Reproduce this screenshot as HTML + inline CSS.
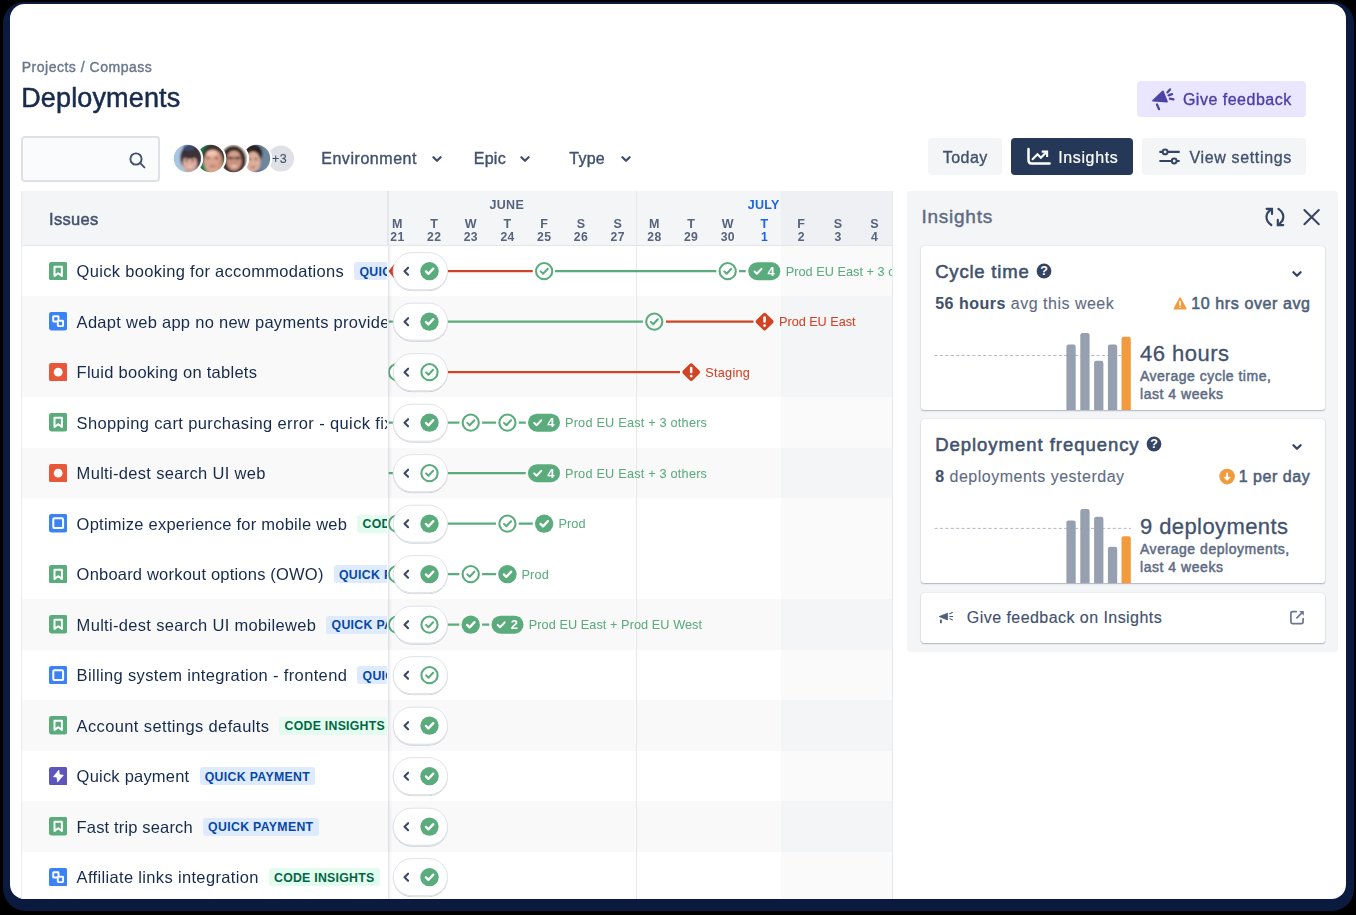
<!DOCTYPE html>
<html><head><meta charset="utf-8"><title>Deployments</title>
<style>
html,body{margin:0;padding:0;background:#000;}
body{width:1356px;height:915px;overflow:hidden;position:relative;font-family:"Liberation Sans", sans-serif;}
#navy{position:absolute;left:3px;top:2px;width:1351px;height:909px;border-radius:21px 21px 22px 23px;background:#0b1b3f;}
#win{position:absolute;left:10px;top:4px;width:1336px;height:895px;border-radius:14.5px;background:#fff;overflow:hidden;}
#pg{position:absolute;left:-10px;top:-4px;width:1356px;height:915px;opacity:0.999;}
b{font-weight:700}
</style></head><body>
<div id="navy"></div>
<div id="win"><div id="pg">
<span style="position:absolute;top:60.37px;font-size:14px;line-height:1;font-weight:400;color:#6b778c;white-space:nowrap;letter-spacing:0.513px;-webkit-text-stroke:0.4px #6b778c;left:21.70px;">Projects / Compass</span>
<span style="position:absolute;top:84.68px;font-size:27px;line-height:1;font-weight:400;color:#172b4d;white-space:nowrap;letter-spacing:0.148px;-webkit-text-stroke:0.5px #172b4d;left:21.20px;">Deployments</span>
<div style="position:absolute;left:21.00px;top:136.00px;width:139.00px;height:45.80px;background:#fafbfc;border-radius:4px;box-sizing:border-box;border:2px solid #dfe1e6;"></div>
<svg style="position:absolute;left:128.40px;top:150.50px;" width="19" height="19" viewBox="0 0 19 19"><circle cx="8" cy="8" r="5.6" fill="none" stroke="#42526e" stroke-width="1.9"/><path d="M12.2 12.2 L16.4 16.4" stroke="#42526e" stroke-width="1.9" stroke-linecap="round"/></svg>
<svg style="position:absolute;left:165.00px;top:135.00px;" width="140" height="50" viewBox="165 135 140 50"><defs><filter id="avb" x="-20%" y="-20%" width="140%" height="140%"><feGaussianBlur stdDeviation="0.8"/></filter></defs><circle cx="281" cy="158.5" r="13.1" fill="#dfe1e6"/><circle cx="256.5" cy="158.5" r="15.7" fill="#fff"/><clipPath id="av4"><circle cx="256.5" cy="158.5" r="13.7"/></clipPath><g clip-path="url(#av4)"><g filter="url(#avb)"><rect x="238.5" y="140.5" width="36" height="36" fill="#6e879c"/><rect x="238.5" y="140.5" width="9.5" height="36" fill="#f4efec"/><ellipse cx="253.3" cy="153.5" rx="9.2" ry="9.6" fill="#2b2121" opacity="1"/><ellipse cx="253.1" cy="162.1" rx="7.3" ry="10.6" fill="#dcae9a" opacity="1"/><ellipse cx="250.0" cy="159.1" rx="1.5" ry="0.9" fill="#4d3834" opacity="1"/><ellipse cx="255.9" cy="159.1" rx="1.5" ry="0.9" fill="#4d3834" opacity="1"/><ellipse cx="252.9" cy="167.1" rx="2.8" ry="0.9" fill="#a56b60" opacity="0.9"/><ellipse cx="259.5" cy="173.5" rx="7" ry="3" fill="#3a5a8a" opacity="0.9"/></g></g><circle cx="233.5" cy="158.5" r="15.7" fill="#fff"/><clipPath id="av3"><circle cx="233.5" cy="158.5" r="13.7"/></clipPath><g clip-path="url(#av3)"><g filter="url(#avb)"><rect x="215.5" y="140.5" width="36" height="36" fill="#e6e1dd"/><ellipse cx="233.5" cy="160.0" rx="12.6" ry="14.6" fill="#3a2926" opacity="1"/><ellipse cx="234.0" cy="160.9" rx="7.7" ry="10.2" fill="#c9927e" opacity="1"/><ellipse cx="234.0" cy="154.0" rx="5.5" ry="3" fill="#d9a590" opacity="0.8"/><rect x="226.9" y="157.3" width="14" height="1.1" fill="#4a3632"/><ellipse cx="230.5" cy="157.9" rx="2.2" ry="1.5" fill="#4a3632" opacity="0.8"/><ellipse cx="237.5" cy="157.9" rx="2.2" ry="1.5" fill="#4a3632" opacity="0.8"/><ellipse cx="234.1" cy="166.3" rx="3.2" ry="1.1" fill="#eedbd4" opacity="0.85"/></g></g><circle cx="210.6" cy="158.5" r="15.7" fill="#fff"/><clipPath id="av2"><circle cx="210.6" cy="158.5" r="13.7"/></clipPath><g clip-path="url(#av2)"><g filter="url(#avb)"><rect x="192.6" y="140.5" width="36" height="36" fill="#1e7d4b"/><ellipse cx="213.79999999999998" cy="155.0" rx="11.2" ry="11.5" fill="#3d322e" opacity="1"/><ellipse cx="213.2" cy="161.9" rx="9.4" ry="12.2" fill="#dba38f" opacity="1"/><ellipse cx="211.6" cy="153.3" rx="5.2" ry="3.0" fill="#f1c4b3" opacity="1"/><ellipse cx="208.0" cy="158.1" rx="1.6" ry="0.9" fill="#5b4038" opacity="1"/><ellipse cx="216.2" cy="158.1" rx="1.6" ry="0.9" fill="#5b4038" opacity="1"/><ellipse cx="212.79999999999998" cy="166.3" rx="3.6" ry="0.8" fill="#8c5a4e" opacity="0.8"/><ellipse cx="220.1" cy="161.5" rx="2.2" ry="8" fill="#c48873" opacity="0.6"/></g></g><circle cx="187.5" cy="158.5" r="15.7" fill="#fff"/><clipPath id="av1"><circle cx="187.5" cy="158.5" r="13.7"/></clipPath><g clip-path="url(#av1)"><g filter="url(#avb)"><rect x="169.5" y="140.5" width="36" height="36" fill="#a9c6e0"/><ellipse cx="191.0" cy="157.5" rx="10.8" ry="13.5" fill="#3a3038" opacity="1"/><ellipse cx="189.0" cy="147.5" rx="6" ry="3.2" fill="#3f4f78" opacity="0.85"/><ellipse cx="189.9" cy="163.3" rx="7.2" ry="8.6" fill="#dcab9b" opacity="1"/><ellipse cx="189.7" cy="155.3" rx="8.6" ry="3.6" fill="#3a3038" opacity="1"/><ellipse cx="186.7" cy="160.5" rx="1.3" ry="0.9" fill="#5a3f40" opacity="1"/><ellipse cx="192.7" cy="160.5" rx="1.3" ry="0.9" fill="#5a3f40" opacity="1"/><ellipse cx="190.1" cy="166.7" rx="2.6" ry="0.9" fill="#f0dcd6" opacity="0.9"/><ellipse cx="190.0" cy="170.5" rx="5" ry="2" fill="#c98f80" opacity="0.5"/></g></g></svg>
<span style="position:absolute;top:152.62px;font-size:12.5px;line-height:1;font-weight:400;color:#42526e;white-space:nowrap;letter-spacing:0.5px;-webkit-text-stroke:0.1px #42526e;left:-20.40px;width:600px;text-align:center;">+3</span>
<span style="position:absolute;top:150.91px;font-size:16px;line-height:1;font-weight:400;color:#42526e;white-space:nowrap;letter-spacing:0.55px;-webkit-text-stroke:0.4px #42526e;left:321.20px;">Environment</span>
<svg style="position:absolute;left:428.60px;top:151.40px;" width="16" height="16" viewBox="0 0 16 16"><path d="M4.4 6.2 L8 9.8 L11.6 6.2" fill="none" stroke="#42526e" stroke-width="2.3" stroke-linecap="round" stroke-linejoin="round"/></svg>
<span style="position:absolute;top:150.91px;font-size:16px;line-height:1;font-weight:400;color:#42526e;white-space:nowrap;letter-spacing:0.25px;-webkit-text-stroke:0.4px #42526e;left:473.80px;">Epic</span>
<svg style="position:absolute;left:517.00px;top:151.40px;" width="16" height="16" viewBox="0 0 16 16"><path d="M4.4 6.2 L8 9.8 L11.6 6.2" fill="none" stroke="#42526e" stroke-width="2.3" stroke-linecap="round" stroke-linejoin="round"/></svg>
<span style="position:absolute;top:150.91px;font-size:16px;line-height:1;font-weight:400;color:#42526e;white-space:nowrap;letter-spacing:0.25px;-webkit-text-stroke:0.4px #42526e;left:569.30px;">Type</span>
<svg style="position:absolute;left:617.70px;top:151.40px;" width="16" height="16" viewBox="0 0 16 16"><path d="M4.4 6.2 L8 9.8 L11.6 6.2" fill="none" stroke="#42526e" stroke-width="2.3" stroke-linecap="round" stroke-linejoin="round"/></svg>
<div style="position:absolute;left:1136.80px;top:80.70px;width:169.50px;height:36.50px;background:#eae6ff;border-radius:4px;"></div>
<span style="position:absolute;top:92.21px;font-size:16px;line-height:1;font-weight:400;color:#4a3fa5;white-space:nowrap;letter-spacing:0.501px;-webkit-text-stroke:0.35px #4a3fa5;left:1182.90px;">Give feedback</span>
<div style="position:absolute;left:927.60px;top:138.00px;width:74.40px;height:36.80px;background:#f4f5f7;border-radius:4px;"></div>
<span style="position:absolute;top:149.51px;font-size:16px;line-height:1;font-weight:400;color:#42526e;white-space:nowrap;letter-spacing:0.461px;-webkit-text-stroke:0.35px #42526e;left:942.80px;">Today</span>
<div style="position:absolute;left:1011.20px;top:138.00px;width:121.70px;height:36.80px;background:#253858;border-radius:4px;"></div>
<span style="position:absolute;top:149.51px;font-size:16px;line-height:1;font-weight:400;color:#ffffff;white-space:nowrap;letter-spacing:0.632px;-webkit-text-stroke:0.2px #ffffff;left:1058.20px;">Insights</span>
<div style="position:absolute;left:1142.40px;top:138.00px;width:163.90px;height:36.80px;background:#f4f5f7;border-radius:4px;"></div>
<span style="position:absolute;top:149.51px;font-size:16px;line-height:1;font-weight:400;color:#42526e;white-space:nowrap;letter-spacing:0.648px;-webkit-text-stroke:0.35px #42526e;left:1189.50px;">View settings</span>
<div style="position:absolute;left:21.00px;top:191.00px;width:871.70px;height:54.50px;background:#f4f5f7;border-radius:0px;"></div>
<div style="position:absolute;left:780.70px;top:191.00px;width:112.00px;height:54.50px;background:#eff0f3;border-radius:0px;"></div>
<div style="position:absolute;left:780.70px;top:245.50px;width:112.00px;height:50.50px;background:#fafafb;border-radius:0px;"></div>
<div style="position:absolute;left:21.00px;top:296.00px;width:871.70px;height:50.50px;background:#f9f9fa;border-radius:0px;"></div>
<div style="position:absolute;left:780.70px;top:296.00px;width:112.00px;height:50.50px;background:#f4f5f7;border-radius:0px;"></div>
<div style="position:absolute;left:21.00px;top:346.50px;width:871.70px;height:50.50px;background:#f9f9fa;border-radius:0px;"></div>
<div style="position:absolute;left:780.70px;top:346.50px;width:112.00px;height:50.50px;background:#f4f5f7;border-radius:0px;"></div>
<div style="position:absolute;left:780.70px;top:397.00px;width:112.00px;height:50.50px;background:#fafafb;border-radius:0px;"></div>
<div style="position:absolute;left:21.00px;top:447.50px;width:871.70px;height:50.50px;background:#f9f9fa;border-radius:0px;"></div>
<div style="position:absolute;left:780.70px;top:447.50px;width:112.00px;height:50.50px;background:#f4f5f7;border-radius:0px;"></div>
<div style="position:absolute;left:780.70px;top:498.00px;width:112.00px;height:50.50px;background:#fafafb;border-radius:0px;"></div>
<div style="position:absolute;left:780.70px;top:548.50px;width:112.00px;height:50.50px;background:#fafafb;border-radius:0px;"></div>
<div style="position:absolute;left:21.00px;top:599.00px;width:871.70px;height:50.50px;background:#f9f9fa;border-radius:0px;"></div>
<div style="position:absolute;left:780.70px;top:599.00px;width:112.00px;height:50.50px;background:#f4f5f7;border-radius:0px;"></div>
<div style="position:absolute;left:780.70px;top:649.50px;width:112.00px;height:50.50px;background:#fafafb;border-radius:0px;"></div>
<div style="position:absolute;left:21.00px;top:700.00px;width:871.70px;height:50.50px;background:#f9f9fa;border-radius:0px;"></div>
<div style="position:absolute;left:780.70px;top:700.00px;width:112.00px;height:50.50px;background:#f4f5f7;border-radius:0px;"></div>
<div style="position:absolute;left:780.70px;top:750.50px;width:112.00px;height:50.50px;background:#fafafb;border-radius:0px;"></div>
<div style="position:absolute;left:21.00px;top:801.00px;width:871.70px;height:50.50px;background:#f9f9fa;border-radius:0px;"></div>
<div style="position:absolute;left:780.70px;top:801.00px;width:112.00px;height:50.50px;background:#f4f5f7;border-radius:0px;"></div>
<div style="position:absolute;left:780.70px;top:851.50px;width:112.00px;height:50.50px;background:#fafafb;border-radius:0px;"></div>
<div style="position:absolute;left:21.00px;top:244.50px;width:871.70px;height:1.00px;background:#e4e6ea;border-radius:0px;"></div>
<div style="position:absolute;left:21.00px;top:191.00px;width:1.00px;height:708.00px;background:#ebecf0;border-radius:0px;"></div>
<div style="position:absolute;left:636.00px;top:191.00px;width:1.00px;height:708.00px;background:#e6e8ec;border-radius:0px;"></div>
<div style="position:absolute;left:892.20px;top:191.00px;width:1.00px;height:708.00px;background:#e6e8ec;border-radius:0px;"></div>
<span style="position:absolute;top:210.70px;font-size:16.5px;line-height:1;font-weight:400;color:#42526e;white-space:nowrap;letter-spacing:0.319px;-webkit-text-stroke:0.5px #42526e;left:49.00px;">Issues</span>
<span style="position:absolute;top:218.12px;font-size:12.5px;line-height:1;font-weight:700;color:#56637d;white-space:nowrap;left:97.30px;width:600px;text-align:center;">M</span>
<span style="position:absolute;top:231.17px;font-size:12.2px;line-height:1;font-weight:700;color:#56637d;white-space:nowrap;letter-spacing:0.4px;left:97.45px;width:600px;text-align:center;">21</span>
<span style="position:absolute;top:218.12px;font-size:12.5px;line-height:1;font-weight:700;color:#56637d;white-space:nowrap;left:134.01px;width:600px;text-align:center;">T</span>
<span style="position:absolute;top:231.17px;font-size:12.2px;line-height:1;font-weight:700;color:#56637d;white-space:nowrap;letter-spacing:0.4px;left:134.16px;width:600px;text-align:center;">22</span>
<span style="position:absolute;top:218.12px;font-size:12.5px;line-height:1;font-weight:700;color:#56637d;white-space:nowrap;left:170.72px;width:600px;text-align:center;">W</span>
<span style="position:absolute;top:231.17px;font-size:12.2px;line-height:1;font-weight:700;color:#56637d;white-space:nowrap;letter-spacing:0.4px;left:170.87px;width:600px;text-align:center;">23</span>
<span style="position:absolute;top:218.12px;font-size:12.5px;line-height:1;font-weight:700;color:#56637d;white-space:nowrap;left:207.43px;width:600px;text-align:center;">T</span>
<span style="position:absolute;top:231.17px;font-size:12.2px;line-height:1;font-weight:700;color:#56637d;white-space:nowrap;letter-spacing:0.4px;left:207.58px;width:600px;text-align:center;">24</span>
<span style="position:absolute;top:218.12px;font-size:12.5px;line-height:1;font-weight:700;color:#56637d;white-space:nowrap;left:244.14px;width:600px;text-align:center;">F</span>
<span style="position:absolute;top:231.17px;font-size:12.2px;line-height:1;font-weight:700;color:#56637d;white-space:nowrap;letter-spacing:0.4px;left:244.29px;width:600px;text-align:center;">25</span>
<span style="position:absolute;top:218.12px;font-size:12.5px;line-height:1;font-weight:700;color:#56637d;white-space:nowrap;left:280.85px;width:600px;text-align:center;">S</span>
<span style="position:absolute;top:231.17px;font-size:12.2px;line-height:1;font-weight:700;color:#56637d;white-space:nowrap;letter-spacing:0.4px;left:281.00px;width:600px;text-align:center;">26</span>
<span style="position:absolute;top:218.12px;font-size:12.5px;line-height:1;font-weight:700;color:#56637d;white-space:nowrap;left:317.56px;width:600px;text-align:center;">S</span>
<span style="position:absolute;top:231.17px;font-size:12.2px;line-height:1;font-weight:700;color:#56637d;white-space:nowrap;letter-spacing:0.4px;left:317.71px;width:600px;text-align:center;">27</span>
<span style="position:absolute;top:218.12px;font-size:12.5px;line-height:1;font-weight:700;color:#56637d;white-space:nowrap;left:354.27px;width:600px;text-align:center;">M</span>
<span style="position:absolute;top:231.17px;font-size:12.2px;line-height:1;font-weight:700;color:#56637d;white-space:nowrap;letter-spacing:0.4px;left:354.42px;width:600px;text-align:center;">28</span>
<span style="position:absolute;top:218.12px;font-size:12.5px;line-height:1;font-weight:700;color:#56637d;white-space:nowrap;left:390.98px;width:600px;text-align:center;">T</span>
<span style="position:absolute;top:231.17px;font-size:12.2px;line-height:1;font-weight:700;color:#56637d;white-space:nowrap;letter-spacing:0.4px;left:391.13px;width:600px;text-align:center;">29</span>
<span style="position:absolute;top:218.12px;font-size:12.5px;line-height:1;font-weight:700;color:#56637d;white-space:nowrap;left:427.69px;width:600px;text-align:center;">W</span>
<span style="position:absolute;top:231.17px;font-size:12.2px;line-height:1;font-weight:700;color:#56637d;white-space:nowrap;letter-spacing:0.4px;left:427.84px;width:600px;text-align:center;">30</span>
<span style="position:absolute;top:218.12px;font-size:12.5px;line-height:1;font-weight:700;color:#1d63e8;white-space:nowrap;left:464.40px;width:600px;text-align:center;">T</span>
<span style="position:absolute;top:231.17px;font-size:12.2px;line-height:1;font-weight:700;color:#1d63e8;white-space:nowrap;letter-spacing:0.4px;left:464.55px;width:600px;text-align:center;">1</span>
<span style="position:absolute;top:218.12px;font-size:12.5px;line-height:1;font-weight:700;color:#56637d;white-space:nowrap;left:501.11px;width:600px;text-align:center;">F</span>
<span style="position:absolute;top:231.17px;font-size:12.2px;line-height:1;font-weight:700;color:#56637d;white-space:nowrap;letter-spacing:0.4px;left:501.26px;width:600px;text-align:center;">2</span>
<span style="position:absolute;top:218.12px;font-size:12.5px;line-height:1;font-weight:700;color:#56637d;white-space:nowrap;left:537.82px;width:600px;text-align:center;">S</span>
<span style="position:absolute;top:231.17px;font-size:12.2px;line-height:1;font-weight:700;color:#56637d;white-space:nowrap;letter-spacing:0.4px;left:537.97px;width:600px;text-align:center;">3</span>
<span style="position:absolute;top:218.12px;font-size:12.5px;line-height:1;font-weight:700;color:#56637d;white-space:nowrap;left:574.53px;width:600px;text-align:center;">S</span>
<span style="position:absolute;top:231.17px;font-size:12.2px;line-height:1;font-weight:700;color:#56637d;white-space:nowrap;letter-spacing:0.4px;left:574.68px;width:600px;text-align:center;">4</span>
<span style="position:absolute;top:198.82px;font-size:12.5px;line-height:1;font-weight:700;color:#56637d;white-space:nowrap;letter-spacing:0.3px;left:206.80px;width:600px;text-align:center;">JUNE</span>
<span style="position:absolute;top:198.82px;font-size:12.5px;line-height:1;font-weight:700;color:#1d63e8;white-space:nowrap;letter-spacing:0.3px;left:463.70px;width:600px;text-align:center;">JULY</span>
<svg style="position:absolute;left:0.00px;top:0.00px;pointer-events:none;" width="1356" height="915" viewBox="0 0 1356 915"><clipPath id="tl"><rect x="388.5" y="245.5" width="504.2" height="660"/></clipPath><g clip-path="url(#tl)"><defs><filter id="sh" x="-20%" y="-20%" width="140%" height="150%"><feDropShadow dx="0" dy="1" stdDeviation="0.7" flood-color="#091e42" flood-opacity="0.2"/></filter></defs><path d="M447 271.15 L533 271.15" stroke="#d04425" stroke-width="2.2"/><circle cx="544.14" cy="271.15" r="11.4" fill="#fff"/><circle cx="544.14" cy="271.15" r="8.1" fill="#fff" stroke="#5aac7c" stroke-width="2.1"/><path d="M540.72 271.34 L543.10 273.71 L547.75 268.77" fill="none" stroke="#5aac7c" stroke-width="2" stroke-linecap="round" stroke-linejoin="round"/><path d="M555 271.15 L740 271.15" stroke="#5aac7c" stroke-width="2.2"/><circle cx="727.69" cy="271.15" r="11.4" fill="#fff"/><circle cx="727.69" cy="271.15" r="8.1" fill="#fff" stroke="#5aac7c" stroke-width="2.1"/><path d="M724.27 271.34 L726.65 273.71 L731.30 268.77" fill="none" stroke="#5aac7c" stroke-width="2" stroke-linecap="round" stroke-linejoin="round"/><path d="M739.7 271.15 L745.8 271.15" stroke="#5aac7c" stroke-width="2.2"/><rect x="746.0" y="259.84999999999997" width="36.6" height="22.6" rx="11.3" fill="#fff"/><rect x="748.3" y="262.15" width="32" height="18" rx="9" fill="#5aac7c"/><path d="M754.5 271.34999999999997 L756.9 273.75 L761.5 268.84999999999997" fill="none" stroke="#fff" stroke-width="2" stroke-linecap="round" stroke-linejoin="round"/><path d="M388.5 271.15 L394 264.15 L394 278.15 Z" fill="#d04425"/><path d="M388.5 321.65 L394 321.65" stroke="#5aac7c" stroke-width="2.2"/><path d="M447 321.65 L645 321.65" stroke="#5aac7c" stroke-width="2.2"/><circle cx="654.27" cy="321.65" r="11.4" fill="#f9f9fa"/><circle cx="654.27" cy="321.65" r="8.1" fill="#f9f9fa" stroke="#5aac7c" stroke-width="2.1"/><path d="M650.85 321.84 L653.23 324.21 L657.88 319.27" fill="none" stroke="#5aac7c" stroke-width="2" stroke-linecap="round" stroke-linejoin="round"/><path d="M666 321.65 L753.5 321.65" stroke="#d04425" stroke-width="2.2"/><rect x="757.7000000000002" y="314.75" width="13.8" height="13.8" rx="2.2" fill="#d04425" transform="rotate(45 764.6000000000001 321.65)"/><rect x="763.3500000000001" y="316.25" width="2.5" height="6.6" rx="1.1" fill="#fff"/><circle cx="764.6000000000001" cy="325.54999999999995" r="1.4" fill="#fff"/><circle cx="397" cy="372.15" r="8.1" fill="#fff" stroke="#5aac7c" stroke-width="2.1"/><path d="M447 372.15 L680 372.15" stroke="#d04425" stroke-width="2.2"/><rect x="684.2800000000001" y="365.25" width="13.8" height="13.8" rx="2.2" fill="#d04425" transform="rotate(45 691.1800000000001 372.15)"/><rect x="689.9300000000001" y="366.75" width="2.5" height="6.6" rx="1.1" fill="#fff"/><circle cx="691.1800000000001" cy="376.04999999999995" r="1.4" fill="#fff"/><path d="M388.5 422.65 L394 422.65" stroke="#5aac7c" stroke-width="2.2"/><path d="M447 422.65 L528 422.65" stroke="#5aac7c" stroke-width="2.2"/><circle cx="470.72" cy="422.65" r="11.4" fill="#fff"/><circle cx="470.72" cy="422.65" r="8.1" fill="#fff" stroke="#5aac7c" stroke-width="2.1"/><path d="M467.30 422.84 L469.68 425.21 L474.33 420.27" fill="none" stroke="#5aac7c" stroke-width="2" stroke-linecap="round" stroke-linejoin="round"/><circle cx="507.43" cy="422.65" r="11.4" fill="#fff"/><circle cx="507.43" cy="422.65" r="8.1" fill="#fff" stroke="#5aac7c" stroke-width="2.1"/><path d="M504.01 422.84 L506.38 425.21 L511.04 420.27" fill="none" stroke="#5aac7c" stroke-width="2" stroke-linecap="round" stroke-linejoin="round"/><rect x="525.7" y="411.34999999999997" width="36.6" height="22.6" rx="11.3" fill="#fff"/><rect x="528" y="413.65" width="32" height="18" rx="9" fill="#5aac7c"/><path d="M534.2 422.84999999999997 L536.6 425.25 L541.2 420.34999999999997" fill="none" stroke="#fff" stroke-width="2" stroke-linecap="round" stroke-linejoin="round"/><path d="M388.5 473.15 L394 473.15" stroke="#5aac7c" stroke-width="2.2"/><path d="M447 473.15 L528 473.15" stroke="#5aac7c" stroke-width="2.2"/><rect x="525.7" y="461.84999999999997" width="36.6" height="22.6" rx="11.3" fill="#f9f9fa"/><rect x="528" y="464.15" width="32" height="18" rx="9" fill="#5aac7c"/><path d="M534.2 473.34999999999997 L536.6 475.75 L541.2 470.84999999999997" fill="none" stroke="#fff" stroke-width="2" stroke-linecap="round" stroke-linejoin="round"/><circle cx="397" cy="523.65" r="8.1" fill="#fff" stroke="#5aac7c" stroke-width="2.1"/><path d="M447 523.65 L536 523.65" stroke="#5aac7c" stroke-width="2.2"/><circle cx="507.43" cy="523.65" r="11.4" fill="#fff"/><circle cx="507.43" cy="523.65" r="8.1" fill="#fff" stroke="#5aac7c" stroke-width="2.1"/><path d="M504.01 523.84 L506.38 526.22 L511.04 521.27" fill="none" stroke="#5aac7c" stroke-width="2" stroke-linecap="round" stroke-linejoin="round"/><circle cx="544.14" cy="523.65" r="11.4" fill="#fff"/><circle cx="544.14" cy="523.65" r="9.2" fill="#5aac7c"/><path d="M540.54 523.85 L543.04 526.35 L547.94 521.15" fill="none" stroke="#fff" stroke-width="2.3" stroke-linecap="round" stroke-linejoin="round"/><circle cx="397" cy="574.15" r="8.1" fill="#fff" stroke="#5aac7c" stroke-width="2.1"/><path d="M447 574.15 L500 574.15" stroke="#5aac7c" stroke-width="2.2"/><circle cx="470.72" cy="574.15" r="11.4" fill="#fff"/><circle cx="470.72" cy="574.15" r="8.1" fill="#fff" stroke="#5aac7c" stroke-width="2.1"/><path d="M467.30 574.34 L469.68 576.72 L474.33 571.77" fill="none" stroke="#5aac7c" stroke-width="2" stroke-linecap="round" stroke-linejoin="round"/><circle cx="507.43" cy="574.15" r="11.4" fill="#fff"/><circle cx="507.43" cy="574.15" r="9.2" fill="#5aac7c"/><path d="M503.83 574.35 L506.33 576.85 L511.23 571.65" fill="none" stroke="#fff" stroke-width="2.3" stroke-linecap="round" stroke-linejoin="round"/><circle cx="397" cy="624.65" r="8.1" fill="#fff" stroke="#5aac7c" stroke-width="2.1"/><path d="M447 624.65 L492 624.65" stroke="#5aac7c" stroke-width="2.2"/><circle cx="470.72" cy="624.65" r="11.4" fill="#f9f9fa"/><circle cx="470.72" cy="624.65" r="9.2" fill="#5aac7c"/><path d="M467.12 624.85 L469.62 627.35 L474.52 622.15" fill="none" stroke="#fff" stroke-width="2.3" stroke-linecap="round" stroke-linejoin="round"/><rect x="489.2" y="613.35" width="36.6" height="22.6" rx="11.3" fill="#f9f9fa"/><rect x="491.5" y="615.65" width="32" height="18" rx="9" fill="#5aac7c"/><path d="M497.7 624.85 L500.1 627.25 L504.7 622.35" fill="none" stroke="#fff" stroke-width="2" stroke-linecap="round" stroke-linejoin="round"/></g></svg>
<div style="position:absolute;left:785.7px;top:261.15px;width:106.5px;height:20px;overflow:hidden"><span style="position:absolute;top:4.45px;font-size:12.7px;line-height:1;font-weight:400;color:#5aac7c;white-space:nowrap;letter-spacing:0.039px;-webkit-text-stroke:0.05px #5aac7c;left:0.00px;">Prod EU East + 3 others</span></div>
<span style="position:absolute;top:264.95px;font-size:13px;line-height:1;font-weight:700;color:#fff;white-space:nowrap;left:471.10px;width:600px;text-align:center;">4</span>
<div style="position:absolute;left:779px;top:311.65px;width:113.20000000000005px;height:20px;overflow:hidden"><span style="position:absolute;top:4.45px;font-size:12.7px;line-height:1;font-weight:400;color:#d04425;white-space:nowrap;letter-spacing:-0.028px;-webkit-text-stroke:0.05px #d04425;left:0.00px;">Prod EU East</span></div>
<div style="position:absolute;left:705.3px;top:362.15px;width:186.9000000000001px;height:20px;overflow:hidden"><span style="position:absolute;top:4.45px;font-size:12.7px;line-height:1;font-weight:400;color:#d04425;white-space:nowrap;letter-spacing:0.261px;-webkit-text-stroke:0.05px #d04425;left:0.00px;">Staging</span></div>
<div style="position:absolute;left:565px;top:412.65px;width:327.20000000000005px;height:20px;overflow:hidden"><span style="position:absolute;top:4.45px;font-size:12.7px;line-height:1;font-weight:400;color:#5aac7c;white-space:nowrap;letter-spacing:0.217px;-webkit-text-stroke:0.05px #5aac7c;left:0.00px;">Prod EU East + 3 others</span></div>
<span style="position:absolute;top:416.45px;font-size:13px;line-height:1;font-weight:700;color:#fff;white-space:nowrap;left:250.80px;width:600px;text-align:center;">4</span>
<div style="position:absolute;left:565px;top:463.15px;width:327.20000000000005px;height:20px;overflow:hidden"><span style="position:absolute;top:4.45px;font-size:12.7px;line-height:1;font-weight:400;color:#5aac7c;white-space:nowrap;letter-spacing:0.217px;-webkit-text-stroke:0.05px #5aac7c;left:0.00px;">Prod EU East + 3 others</span></div>
<span style="position:absolute;top:466.95px;font-size:13px;line-height:1;font-weight:700;color:#fff;white-space:nowrap;left:250.80px;width:600px;text-align:center;">4</span>
<div style="position:absolute;left:558.4px;top:513.65px;width:333.80000000000007px;height:20px;overflow:hidden"><span style="position:absolute;top:4.45px;font-size:12.7px;line-height:1;font-weight:400;color:#5aac7c;white-space:nowrap;letter-spacing:0.143px;-webkit-text-stroke:0.05px #5aac7c;left:0.00px;">Prod</span></div>
<div style="position:absolute;left:521.5px;top:564.15px;width:370.70000000000005px;height:20px;overflow:hidden"><span style="position:absolute;top:4.45px;font-size:12.7px;line-height:1;font-weight:400;color:#5aac7c;white-space:nowrap;letter-spacing:0.143px;-webkit-text-stroke:0.05px #5aac7c;left:0.00px;">Prod</span></div>
<div style="position:absolute;left:528.7px;top:614.65px;width:363.5px;height:20px;overflow:hidden"><span style="position:absolute;top:4.45px;font-size:12.7px;line-height:1;font-weight:400;color:#5aac7c;white-space:nowrap;letter-spacing:0.073px;-webkit-text-stroke:0.05px #5aac7c;left:0.00px;">Prod EU East + Prod EU West</span></div>
<span style="position:absolute;top:618.45px;font-size:13px;line-height:1;font-weight:700;color:#fff;white-space:nowrap;left:214.30px;width:600px;text-align:center;">2</span>
<div style="position:absolute;left:22px;top:245.5px;width:365px;height:653.5px;overflow:hidden"><div style="position:absolute;left:-22px;top:-245.5px;width:1356px;height:915px"><div style="position:absolute;left:22.00px;top:245.50px;width:400.00px;height:50.50px;background:#fff;border-radius:0px;"></div><svg style="position:absolute;left:48.7px;top:261.95px" width="18.4" height="18.4" viewBox="0 0 18.4 18.4"><rect width="18.4" height="18.4" rx="2.3" fill="#5bab7d"/><path d="M5.5 4.8 H12.9 V13.9 L9.2 11.2 L5.5 13.9 Z" fill="none" stroke="#fff" stroke-width="2" stroke-linejoin="round"/></svg><span style="position:absolute;top:263.20px;font-size:16.5px;line-height:1;font-weight:400;color:#172b4d;white-space:nowrap;letter-spacing:0.306px;left:76.60px;">Quick booking for accommodations</span><div style="position:absolute;left:354.20px;top:262.05px;width:115.80px;height:18.10px;background:#deebff;border-radius:3px;"></div><span style="position:absolute;top:265.73px;font-size:12.3px;line-height:1;font-weight:700;color:#0747a6;white-space:nowrap;letter-spacing:0.327px;left:359.40px;">QUICK PAYMENT</span><div style="position:absolute;left:22.00px;top:296.00px;width:400.00px;height:50.50px;background:#f9f9fa;border-radius:0px;"></div><svg style="position:absolute;left:48.7px;top:312.45px" width="18.4" height="18.4" viewBox="0 0 18.4 18.4"><rect width="18.4" height="18.4" rx="2.3" fill="#3b82f6"/><rect x="4.2" y="4.2" width="5.3" height="5.3" rx="0.5" fill="none" stroke="#fff" stroke-width="1.9"/><rect x="8.8" y="8.8" width="5.3" height="5.3" rx="0.5" fill="#3b82f6" stroke="#fff" stroke-width="1.9"/></svg><span style="position:absolute;top:313.70px;font-size:16.5px;line-height:1;font-weight:400;color:#172b4d;white-space:nowrap;letter-spacing:0.28px;left:76.60px;">Adapt web app no new payments provider</span><div style="position:absolute;left:22.00px;top:346.50px;width:400.00px;height:50.50px;background:#f9f9fa;border-radius:0px;"></div><svg style="position:absolute;left:48.7px;top:362.95px" width="18.4" height="18.4" viewBox="0 0 18.4 18.4"><rect width="18.4" height="18.4" rx="2.3" fill="#e9573a"/><circle cx="9.2" cy="9.2" r="4.4" fill="#fff"/></svg><span style="position:absolute;top:364.20px;font-size:16.5px;line-height:1;font-weight:400;color:#172b4d;white-space:nowrap;letter-spacing:0.263px;left:76.60px;">Fluid booking on tablets</span><div style="position:absolute;left:22.00px;top:397.00px;width:400.00px;height:50.50px;background:#fff;border-radius:0px;"></div><svg style="position:absolute;left:48.7px;top:413.45px" width="18.4" height="18.4" viewBox="0 0 18.4 18.4"><rect width="18.4" height="18.4" rx="2.3" fill="#5bab7d"/><path d="M5.5 4.8 H12.9 V13.9 L9.2 11.2 L5.5 13.9 Z" fill="none" stroke="#fff" stroke-width="2" stroke-linejoin="round"/></svg><span style="position:absolute;top:414.70px;font-size:16.5px;line-height:1;font-weight:400;color:#172b4d;white-space:nowrap;letter-spacing:0.37px;left:76.60px;">Shopping cart purchasing error - quick fix</span><div style="position:absolute;left:22.00px;top:447.50px;width:400.00px;height:50.50px;background:#f9f9fa;border-radius:0px;"></div><svg style="position:absolute;left:48.7px;top:463.95px" width="18.4" height="18.4" viewBox="0 0 18.4 18.4"><rect width="18.4" height="18.4" rx="2.3" fill="#e9573a"/><circle cx="9.2" cy="9.2" r="4.4" fill="#fff"/></svg><span style="position:absolute;top:465.20px;font-size:16.5px;line-height:1;font-weight:400;color:#172b4d;white-space:nowrap;letter-spacing:0.314px;left:76.60px;">Multi-dest search UI web</span><div style="position:absolute;left:22.00px;top:498.00px;width:400.00px;height:50.50px;background:#fff;border-radius:0px;"></div><svg style="position:absolute;left:48.7px;top:514.45px" width="18.4" height="18.4" viewBox="0 0 18.4 18.4"><rect width="18.4" height="18.4" rx="2.3" fill="#3b82f6"/><rect x="4.3" y="4.3" width="9.8" height="9.8" rx="1.2" fill="none" stroke="#fff" stroke-width="2"/></svg><span style="position:absolute;top:515.70px;font-size:16.5px;line-height:1;font-weight:400;color:#172b4d;white-space:nowrap;letter-spacing:0.244px;left:76.60px;">Optimize experience for mobile web</span><div style="position:absolute;left:357.30px;top:514.55px;width:110.80px;height:18.10px;background:#e3fcef;border-radius:3px;"></div><span style="position:absolute;top:518.23px;font-size:12.3px;line-height:1;font-weight:700;color:#006644;white-space:nowrap;letter-spacing:0.258px;left:362.50px;">CODE INSIGHTS</span><div style="position:absolute;left:22.00px;top:548.50px;width:400.00px;height:50.50px;background:#fff;border-radius:0px;"></div><svg style="position:absolute;left:48.7px;top:564.95px" width="18.4" height="18.4" viewBox="0 0 18.4 18.4"><rect width="18.4" height="18.4" rx="2.3" fill="#5bab7d"/><path d="M5.5 4.8 H12.9 V13.9 L9.2 11.2 L5.5 13.9 Z" fill="none" stroke="#fff" stroke-width="2" stroke-linejoin="round"/></svg><span style="position:absolute;top:566.20px;font-size:16.5px;line-height:1;font-weight:400;color:#172b4d;white-space:nowrap;letter-spacing:0.201px;left:76.60px;">Onboard workout options (OWO)</span><div style="position:absolute;left:333.70px;top:565.05px;width:115.80px;height:18.10px;background:#deebff;border-radius:3px;"></div><span style="position:absolute;top:568.73px;font-size:12.3px;line-height:1;font-weight:700;color:#0747a6;white-space:nowrap;letter-spacing:0.327px;left:338.90px;">QUICK PAYMENT</span><div style="position:absolute;left:22.00px;top:599.00px;width:400.00px;height:50.50px;background:#f9f9fa;border-radius:0px;"></div><svg style="position:absolute;left:48.7px;top:615.45px" width="18.4" height="18.4" viewBox="0 0 18.4 18.4"><rect width="18.4" height="18.4" rx="2.3" fill="#5bab7d"/><path d="M5.5 4.8 H12.9 V13.9 L9.2 11.2 L5.5 13.9 Z" fill="none" stroke="#fff" stroke-width="2" stroke-linejoin="round"/></svg><span style="position:absolute;top:616.70px;font-size:16.5px;line-height:1;font-weight:400;color:#172b4d;white-space:nowrap;letter-spacing:0.314px;left:76.60px;">Multi-dest search UI mobileweb</span><div style="position:absolute;left:326.30px;top:615.55px;width:115.80px;height:18.10px;background:#deebff;border-radius:3px;"></div><span style="position:absolute;top:619.23px;font-size:12.3px;line-height:1;font-weight:700;color:#0747a6;white-space:nowrap;letter-spacing:0.327px;left:331.50px;">QUICK PAYMENT</span><div style="position:absolute;left:22.00px;top:649.50px;width:400.00px;height:50.50px;background:#fff;border-radius:0px;"></div><svg style="position:absolute;left:48.7px;top:665.95px" width="18.4" height="18.4" viewBox="0 0 18.4 18.4"><rect width="18.4" height="18.4" rx="2.3" fill="#3b82f6"/><rect x="4.3" y="4.3" width="9.8" height="9.8" rx="1.2" fill="none" stroke="#fff" stroke-width="2"/></svg><span style="position:absolute;top:667.20px;font-size:16.5px;line-height:1;font-weight:400;color:#172b4d;white-space:nowrap;letter-spacing:0.348px;left:76.60px;">Billing system integration - frontend</span><div style="position:absolute;left:357.30px;top:666.05px;width:115.80px;height:18.10px;background:#deebff;border-radius:3px;"></div><span style="position:absolute;top:669.73px;font-size:12.3px;line-height:1;font-weight:700;color:#0747a6;white-space:nowrap;letter-spacing:0.327px;left:362.50px;">QUICK PAYMENT</span><div style="position:absolute;left:22.00px;top:700.00px;width:400.00px;height:50.50px;background:#f9f9fa;border-radius:0px;"></div><svg style="position:absolute;left:48.7px;top:716.45px" width="18.4" height="18.4" viewBox="0 0 18.4 18.4"><rect width="18.4" height="18.4" rx="2.3" fill="#5bab7d"/><path d="M5.5 4.8 H12.9 V13.9 L9.2 11.2 L5.5 13.9 Z" fill="none" stroke="#fff" stroke-width="2" stroke-linejoin="round"/></svg><span style="position:absolute;top:717.70px;font-size:16.5px;line-height:1;font-weight:400;color:#172b4d;white-space:nowrap;letter-spacing:0.37px;left:76.60px;">Account settings defaults</span><div style="position:absolute;left:279.40px;top:716.55px;width:110.80px;height:18.10px;background:#e3fcef;border-radius:3px;"></div><span style="position:absolute;top:720.23px;font-size:12.3px;line-height:1;font-weight:700;color:#006644;white-space:nowrap;letter-spacing:0.258px;left:284.60px;">CODE INSIGHTS</span><div style="position:absolute;left:22.00px;top:750.50px;width:400.00px;height:50.50px;background:#fff;border-radius:0px;"></div><svg style="position:absolute;left:48.7px;top:766.95px" width="18.4" height="18.4" viewBox="0 0 18.4 18.4"><rect width="18.4" height="18.4" rx="2.3" fill="#5e56b8"/><path d="M9.9 3.1 L10.4 7.6 L14.4 8.2 L8.6 15.1 L8 10.2 L4.4 9.7 Z" fill="#fff" stroke="#fff" stroke-width="0.6" stroke-linejoin="round"/></svg><span style="position:absolute;top:768.20px;font-size:16.5px;line-height:1;font-weight:400;color:#172b4d;white-space:nowrap;letter-spacing:0.212px;left:76.60px;">Quick payment</span><div style="position:absolute;left:199.50px;top:767.05px;width:115.80px;height:18.10px;background:#deebff;border-radius:3px;"></div><span style="position:absolute;top:770.73px;font-size:12.3px;line-height:1;font-weight:700;color:#0747a6;white-space:nowrap;letter-spacing:0.327px;left:204.70px;">QUICK PAYMENT</span><div style="position:absolute;left:22.00px;top:801.00px;width:400.00px;height:50.50px;background:#f9f9fa;border-radius:0px;"></div><svg style="position:absolute;left:48.7px;top:817.45px" width="18.4" height="18.4" viewBox="0 0 18.4 18.4"><rect width="18.4" height="18.4" rx="2.3" fill="#5bab7d"/><path d="M5.5 4.8 H12.9 V13.9 L9.2 11.2 L5.5 13.9 Z" fill="none" stroke="#fff" stroke-width="2" stroke-linejoin="round"/></svg><span style="position:absolute;top:818.70px;font-size:16.5px;line-height:1;font-weight:400;color:#172b4d;white-space:nowrap;letter-spacing:0.156px;left:76.60px;">Fast trip search</span><div style="position:absolute;left:202.90px;top:817.55px;width:115.80px;height:18.10px;background:#deebff;border-radius:3px;"></div><span style="position:absolute;top:821.23px;font-size:12.3px;line-height:1;font-weight:700;color:#0747a6;white-space:nowrap;letter-spacing:0.327px;left:208.10px;">QUICK PAYMENT</span><div style="position:absolute;left:22.00px;top:851.50px;width:400.00px;height:50.50px;background:#fff;border-radius:0px;"></div><svg style="position:absolute;left:48.7px;top:867.95px" width="18.4" height="18.4" viewBox="0 0 18.4 18.4"><rect width="18.4" height="18.4" rx="2.3" fill="#3b82f6"/><rect x="4.2" y="4.2" width="5.3" height="5.3" rx="0.5" fill="none" stroke="#fff" stroke-width="1.9"/><rect x="8.8" y="8.8" width="5.3" height="5.3" rx="0.5" fill="#3b82f6" stroke="#fff" stroke-width="1.9"/></svg><span style="position:absolute;top:869.20px;font-size:16.5px;line-height:1;font-weight:400;color:#172b4d;white-space:nowrap;letter-spacing:0.335px;left:76.60px;">Affiliate links integration</span><div style="position:absolute;left:268.80px;top:868.05px;width:110.80px;height:18.10px;background:#e3fcef;border-radius:3px;"></div><span style="position:absolute;top:871.73px;font-size:12.3px;line-height:1;font-weight:700;color:#006644;white-space:nowrap;letter-spacing:0.258px;left:274.00px;">CODE INSIGHTS</span></div></div>
<div style="position:absolute;left:387.00px;top:191.00px;width:1.60px;height:54.50px;background:#e4e6ea;border-radius:0px;"></div>
<div style="position:absolute;left:387.50px;top:245.50px;width:4.20px;height:653.50px;background:linear-gradient(to right, rgba(9,30,66,0.13), rgba(9,30,66,0.05) 40%, rgba(9,30,66,0));border-radius:0px;"></div>
<svg style="position:absolute;left:0.00px;top:0.00px;pointer-events:none;" width="1356" height="915" viewBox="0 0 1356 915"><defs><filter id="sh2" x="-20%" y="-20%" width="140%" height="150%"><feDropShadow dx="0" dy="1" stdDeviation="0.7" flood-color="#091e42" flood-opacity="0.2"/></filter></defs><rect x="393.2" y="252.64999999999998" width="54.3" height="37" rx="18.5" fill="#fff" stroke="#dfe2e7" stroke-width="1" filter="url(#sh2)"/><path d="M408.1 267.65 L404.5 271.15 L408.1 274.65" fill="none" stroke="#3a4968" stroke-width="2.1" stroke-linecap="round" stroke-linejoin="round"/><circle cx="429.5" cy="271.15" r="9.2" fill="#5aac7c"/><path d="M425.90 271.35 L428.40 273.85 L433.30 268.65" fill="none" stroke="#fff" stroke-width="2.3" stroke-linecap="round" stroke-linejoin="round"/><rect x="393.2" y="303.15" width="54.3" height="37" rx="18.5" fill="#fff" stroke="#dfe2e7" stroke-width="1" filter="url(#sh2)"/><path d="M408.1 318.15 L404.5 321.65 L408.1 325.15" fill="none" stroke="#3a4968" stroke-width="2.1" stroke-linecap="round" stroke-linejoin="round"/><circle cx="429.5" cy="321.65" r="9.2" fill="#5aac7c"/><path d="M425.90 321.85 L428.40 324.35 L433.30 319.15" fill="none" stroke="#fff" stroke-width="2.3" stroke-linecap="round" stroke-linejoin="round"/><rect x="393.2" y="353.65" width="54.3" height="37" rx="18.5" fill="#fff" stroke="#dfe2e7" stroke-width="1" filter="url(#sh2)"/><path d="M408.1 368.65 L404.5 372.15 L408.1 375.65" fill="none" stroke="#3a4968" stroke-width="2.1" stroke-linecap="round" stroke-linejoin="round"/><circle cx="429.5" cy="372.15" r="8.1" fill="#fff" stroke="#5aac7c" stroke-width="2.1"/><path d="M426.08 372.34 L428.45 374.71 L433.11 369.77" fill="none" stroke="#5aac7c" stroke-width="2" stroke-linecap="round" stroke-linejoin="round"/><rect x="393.2" y="404.15" width="54.3" height="37" rx="18.5" fill="#fff" stroke="#dfe2e7" stroke-width="1" filter="url(#sh2)"/><path d="M408.1 419.15 L404.5 422.65 L408.1 426.15" fill="none" stroke="#3a4968" stroke-width="2.1" stroke-linecap="round" stroke-linejoin="round"/><circle cx="429.5" cy="422.65" r="9.2" fill="#5aac7c"/><path d="M425.90 422.85 L428.40 425.35 L433.30 420.15" fill="none" stroke="#fff" stroke-width="2.3" stroke-linecap="round" stroke-linejoin="round"/><rect x="393.2" y="454.65" width="54.3" height="37" rx="18.5" fill="#fff" stroke="#dfe2e7" stroke-width="1" filter="url(#sh2)"/><path d="M408.1 469.65 L404.5 473.15 L408.1 476.65" fill="none" stroke="#3a4968" stroke-width="2.1" stroke-linecap="round" stroke-linejoin="round"/><circle cx="429.5" cy="473.15" r="8.1" fill="#fff" stroke="#5aac7c" stroke-width="2.1"/><path d="M426.08 473.34 L428.45 475.71 L433.11 470.77" fill="none" stroke="#5aac7c" stroke-width="2" stroke-linecap="round" stroke-linejoin="round"/><rect x="393.2" y="505.15" width="54.3" height="37" rx="18.5" fill="#fff" stroke="#dfe2e7" stroke-width="1" filter="url(#sh2)"/><path d="M408.1 520.15 L404.5 523.65 L408.1 527.15" fill="none" stroke="#3a4968" stroke-width="2.1" stroke-linecap="round" stroke-linejoin="round"/><circle cx="429.5" cy="523.65" r="9.2" fill="#5aac7c"/><path d="M425.90 523.85 L428.40 526.35 L433.30 521.15" fill="none" stroke="#fff" stroke-width="2.3" stroke-linecap="round" stroke-linejoin="round"/><rect x="393.2" y="555.65" width="54.3" height="37" rx="18.5" fill="#fff" stroke="#dfe2e7" stroke-width="1" filter="url(#sh2)"/><path d="M408.1 570.65 L404.5 574.15 L408.1 577.65" fill="none" stroke="#3a4968" stroke-width="2.1" stroke-linecap="round" stroke-linejoin="round"/><circle cx="429.5" cy="574.15" r="9.2" fill="#5aac7c"/><path d="M425.90 574.35 L428.40 576.85 L433.30 571.65" fill="none" stroke="#fff" stroke-width="2.3" stroke-linecap="round" stroke-linejoin="round"/><rect x="393.2" y="606.15" width="54.3" height="37" rx="18.5" fill="#fff" stroke="#dfe2e7" stroke-width="1" filter="url(#sh2)"/><path d="M408.1 621.15 L404.5 624.65 L408.1 628.15" fill="none" stroke="#3a4968" stroke-width="2.1" stroke-linecap="round" stroke-linejoin="round"/><circle cx="429.5" cy="624.65" r="8.1" fill="#fff" stroke="#5aac7c" stroke-width="2.1"/><path d="M426.08 624.84 L428.45 627.22 L433.11 622.27" fill="none" stroke="#5aac7c" stroke-width="2" stroke-linecap="round" stroke-linejoin="round"/><rect x="393.2" y="656.65" width="54.3" height="37" rx="18.5" fill="#fff" stroke="#dfe2e7" stroke-width="1" filter="url(#sh2)"/><path d="M408.1 671.65 L404.5 675.15 L408.1 678.65" fill="none" stroke="#3a4968" stroke-width="2.1" stroke-linecap="round" stroke-linejoin="round"/><circle cx="429.5" cy="675.15" r="8.1" fill="#fff" stroke="#5aac7c" stroke-width="2.1"/><path d="M426.08 675.34 L428.45 677.72 L433.11 672.77" fill="none" stroke="#5aac7c" stroke-width="2" stroke-linecap="round" stroke-linejoin="round"/><rect x="393.2" y="707.15" width="54.3" height="37" rx="18.5" fill="#fff" stroke="#dfe2e7" stroke-width="1" filter="url(#sh2)"/><path d="M408.1 722.15 L404.5 725.65 L408.1 729.15" fill="none" stroke="#3a4968" stroke-width="2.1" stroke-linecap="round" stroke-linejoin="round"/><circle cx="429.5" cy="725.65" r="9.2" fill="#5aac7c"/><path d="M425.90 725.85 L428.40 728.35 L433.30 723.15" fill="none" stroke="#fff" stroke-width="2.3" stroke-linecap="round" stroke-linejoin="round"/><rect x="393.2" y="757.65" width="54.3" height="37" rx="18.5" fill="#fff" stroke="#dfe2e7" stroke-width="1" filter="url(#sh2)"/><path d="M408.1 772.65 L404.5 776.15 L408.1 779.65" fill="none" stroke="#3a4968" stroke-width="2.1" stroke-linecap="round" stroke-linejoin="round"/><circle cx="429.5" cy="776.15" r="9.2" fill="#5aac7c"/><path d="M425.90 776.35 L428.40 778.85 L433.30 773.65" fill="none" stroke="#fff" stroke-width="2.3" stroke-linecap="round" stroke-linejoin="round"/><rect x="393.2" y="808.15" width="54.3" height="37" rx="18.5" fill="#fff" stroke="#dfe2e7" stroke-width="1" filter="url(#sh2)"/><path d="M408.1 823.15 L404.5 826.65 L408.1 830.15" fill="none" stroke="#3a4968" stroke-width="2.1" stroke-linecap="round" stroke-linejoin="round"/><circle cx="429.5" cy="826.65" r="9.2" fill="#5aac7c"/><path d="M425.90 826.85 L428.40 829.35 L433.30 824.15" fill="none" stroke="#fff" stroke-width="2.3" stroke-linecap="round" stroke-linejoin="round"/><rect x="393.2" y="858.65" width="54.3" height="37" rx="18.5" fill="#fff" stroke="#dfe2e7" stroke-width="1" filter="url(#sh2)"/><path d="M408.1 873.65 L404.5 877.15 L408.1 880.65" fill="none" stroke="#3a4968" stroke-width="2.1" stroke-linecap="round" stroke-linejoin="round"/><circle cx="429.5" cy="877.15" r="9.2" fill="#5aac7c"/><path d="M425.90 877.35 L428.40 879.85 L433.30 874.65" fill="none" stroke="#fff" stroke-width="2.3" stroke-linecap="round" stroke-linejoin="round"/></svg>
<div style="position:absolute;left:907.20px;top:191.00px;width:430.80px;height:460.50px;background:#f4f5f7;border-radius:3px;"></div>
<span style="position:absolute;top:207.42px;font-size:19px;line-height:1;font-weight:400;color:#5e6c84;white-space:nowrap;letter-spacing:0.765px;-webkit-text-stroke:0.45px #5e6c84;left:921.40px;">Insights</span>
<div style="position:absolute;left:920.70px;top:245.50px;width:404.00px;height:164.50px;background:#fff;border-radius:3px;box-shadow:0 1px 1.5px rgba(9,30,66,0.28),0 0 1px rgba(9,30,66,0.25);overflow:hidden;"></div>
<div style="position:absolute;left:920.70px;top:419.00px;width:404.00px;height:164.20px;background:#fff;border-radius:3px;box-shadow:0 1px 1.5px rgba(9,30,66,0.28),0 0 1px rgba(9,30,66,0.25);overflow:hidden;"></div>
<div style="position:absolute;left:920.70px;top:593.00px;width:404.00px;height:50.40px;background:#fff;border-radius:3px;box-shadow:0 1px 1.5px rgba(9,30,66,0.28),0 0 1px rgba(9,30,66,0.25);overflow:hidden;"></div>
<svg style="position:absolute;left:0.00px;top:0.00px;pointer-events:none;" width="1356" height="915" viewBox="0 0 1356 915"><path d="M934.5 355.5 L1131 355.5" stroke="#b3bac5" stroke-width="1" stroke-dasharray="3.2 2.2"/><path d="M1066.4 410 V346.8 Q1066.4 344.6 1068.6000000000001 344.6 H1073.5 Q1075.7 344.6 1075.7 346.8 V410 Z" fill="#97a0b0"/><path d="M1080.3 410 V335.2 Q1080.3 333 1082.5 333 H1087.3999999999999 Q1089.6 333 1089.6 335.2 V410 Z" fill="#97a0b0"/><path d="M1094.1 410 V362.9 Q1094.1 360.7 1096.3 360.7 H1101.1999999999998 Q1103.3999999999999 360.7 1103.3999999999999 362.9 V410 Z" fill="#97a0b0"/><path d="M1107.9 410 V346.8 Q1107.9 344.6 1110.1000000000001 344.6 H1115.0 Q1117.2 344.6 1117.2 346.8 V410 Z" fill="#97a0b0"/><path d="M1121.5 410 V338.9 Q1121.5 336.7 1123.7 336.7 H1128.6 Q1130.8 336.7 1130.8 338.9 V410 Z" fill="#f29b3e"/><path d="M934.5 528.4 L1131 528.4" stroke="#b3bac5" stroke-width="1" stroke-dasharray="3.2 2.2"/><path d="M1066.4 583.2 V522.6 Q1066.4 520.4 1068.6000000000001 520.4 H1073.5 Q1075.7 520.4 1075.7 522.6 V583.2 Z" fill="#97a0b0"/><path d="M1080.3 583.2 V511.09999999999997 Q1080.3 508.9 1082.5 508.9 H1087.3999999999999 Q1089.6 508.9 1089.6 511.09999999999997 V583.2 Z" fill="#97a0b0"/><path d="M1094.1 583.2 V519.0 Q1094.1 516.8 1096.3 516.8 H1101.1999999999998 Q1103.3999999999999 516.8 1103.3999999999999 519.0 V583.2 Z" fill="#97a0b0"/><path d="M1107.9 583.2 V548.9000000000001 Q1107.9 546.7 1110.1000000000001 546.7 H1115.0 Q1117.2 546.7 1117.2 548.9000000000001 V583.2 Z" fill="#97a0b0"/><path d="M1121.5 583.2 V538.4000000000001 Q1121.5 536.2 1123.7 536.2 H1128.6 Q1130.8 536.2 1130.8 538.4000000000001 V583.2 Z" fill="#f29b3e"/></svg>
<span style="position:absolute;top:263.04px;font-size:18.5px;line-height:1;font-weight:400;color:#42526e;white-space:nowrap;letter-spacing:0.795px;-webkit-text-stroke:0.55px #42526e;left:935.20px;">Cycle time</span>
<svg style="position:absolute;left:1036.10px;top:263.40px;" width="16" height="16" viewBox="0 0 16 16"><circle cx="8" cy="8" r="7.4" fill="#344563"/><text x="8" y="12.4" text-anchor="middle" font-family='Liberation Sans, sans-serif' font-size="12.5" font-weight="700" fill="#fff">?</text></svg>
<svg style="position:absolute;left:1289.40px;top:265.50px;" width="16" height="16" viewBox="0 0 16 16"><path d="M4.4 6.2 L8 9.8 L11.6 6.2" fill="none" stroke="#344563" stroke-width="2.3" stroke-linecap="round" stroke-linejoin="round"/></svg>
<span style="position:absolute;top:295.61px;font-size:16px;line-height:1;font-weight:400;color:#5e6c84;white-space:nowrap;letter-spacing:0.5px;-webkit-text-stroke:0.1px #5e6c84;left:935.20px;"><b style="color:#42526e">56 hours</b> avg this week</span>
<span style="position:absolute;top:295.61px;font-size:16px;line-height:1;font-weight:400;color:#505f79;white-space:nowrap;letter-spacing:0.601px;-webkit-text-stroke:0.55px #505f79;right:45.40px;">10 hrs over avg</span>
<svg style="position:absolute;left:0.00px;top:0.00px;pointer-events:none;" width="1356" height="915" viewBox="0 0 1356 915"><path d="M1180.1 298.2 L1185.7 308.7 H1174.5 Z" fill="#f29b3e" stroke="#f29b3e" stroke-width="1.7" stroke-linejoin="round"/><rect x="1179.2" y="300.8" width="1.8" height="5" rx="0.6" fill="#fdf0e0"/><rect x="1179.2" y="306.7" width="1.8" height="1.4" rx="0.5" fill="#fdf0e0"/></svg>
<span style="position:absolute;top:342.53px;font-size:22px;line-height:1;font-weight:400;color:#42526e;white-space:nowrap;letter-spacing:0.498px;-webkit-text-stroke:0.3px #42526e;left:1140.00px;">46 hours</span>
<span style="position:absolute;top:369.17px;font-size:14px;line-height:1;font-weight:400;color:#5e6c84;white-space:nowrap;letter-spacing:0.494px;-webkit-text-stroke:0.5px #5e6c84;left:1140.00px;">Average cycle time,</span>
<span style="position:absolute;top:387.27px;font-size:14px;line-height:1;font-weight:400;color:#5e6c84;white-space:nowrap;letter-spacing:0.539px;-webkit-text-stroke:0.5px #5e6c84;left:1140.00px;">last 4 weeks</span>
<span style="position:absolute;top:436.04px;font-size:18.5px;line-height:1;font-weight:400;color:#42526e;white-space:nowrap;letter-spacing:0.965px;-webkit-text-stroke:0.55px #42526e;left:935.20px;">Deployment frequency</span>
<svg style="position:absolute;left:1145.70px;top:436.40px;" width="16" height="16" viewBox="0 0 16 16"><circle cx="8" cy="8" r="7.4" fill="#344563"/><text x="8" y="12.4" text-anchor="middle" font-family='Liberation Sans, sans-serif' font-size="12.5" font-weight="700" fill="#fff">?</text></svg>
<svg style="position:absolute;left:1289.40px;top:439.00px;" width="16" height="16" viewBox="0 0 16 16"><path d="M4.4 6.2 L8 9.8 L11.6 6.2" fill="none" stroke="#344563" stroke-width="2.3" stroke-linecap="round" stroke-linejoin="round"/></svg>
<span style="position:absolute;top:468.91px;font-size:16px;line-height:1;font-weight:400;color:#5e6c84;white-space:nowrap;letter-spacing:0.5px;-webkit-text-stroke:0.1px #5e6c84;left:935.20px;"><b style="color:#42526e">8</b> deployments yesterday</span>
<span style="position:absolute;top:468.81px;font-size:16px;line-height:1;font-weight:400;color:#505f79;white-space:nowrap;letter-spacing:0.532px;-webkit-text-stroke:0.55px #505f79;right:45.80px;">1 per day</span>
<svg style="position:absolute;left:0.00px;top:0.00px;pointer-events:none;" width="1356" height="915" viewBox="0 0 1356 915"><circle cx="1227.1" cy="476.6" r="7.8" fill="#f29b3e"/><path d="M1227.1 473.4 V478" stroke="#fff" stroke-width="1.8" stroke-linecap="round"/><path d="M1224.1 477.3 H1230.1 L1227.1 480.4 Z" fill="#fff" stroke="#fff" stroke-width="0.9" stroke-linejoin="round"/></svg>
<span style="position:absolute;top:516.13px;font-size:22px;line-height:1;font-weight:400;color:#42526e;white-space:nowrap;letter-spacing:0.409px;-webkit-text-stroke:0.3px #42526e;left:1140.00px;">9 deployments</span>
<span style="position:absolute;top:542.37px;font-size:14px;line-height:1;font-weight:400;color:#5e6c84;white-space:nowrap;letter-spacing:0.537px;-webkit-text-stroke:0.5px #5e6c84;left:1140.00px;">Average deployments,</span>
<span style="position:absolute;top:560.37px;font-size:14px;line-height:1;font-weight:400;color:#5e6c84;white-space:nowrap;letter-spacing:0.539px;-webkit-text-stroke:0.5px #5e6c84;left:1140.00px;">last 4 weeks</span>
<span style="position:absolute;top:610.31px;font-size:16px;line-height:1;font-weight:400;color:#42526e;white-space:nowrap;letter-spacing:0.45px;-webkit-text-stroke:0.15px #42526e;left:966.80px;">Give feedback on Insights</span>
<svg style="position:absolute;left:0.00px;top:0.00px;pointer-events:none;" width="1356" height="915" viewBox="0 0 1356 915"><path d="M1162.9 91.5 L1166.9 101.5 L1153.1 100.6 Z" fill="#4c44a5" stroke="#4c44a5" stroke-width="1.9" stroke-linejoin="round"/><path d="M1157 104.5 L1159 109.1 M1167.4 92.4 L1170 89.4 M1168.6 95.4 L1172 94.1 M1169.9 98.7 L1173.5 99.4" stroke="#4c44a5" stroke-width="2.3" stroke-linecap="round" fill="none"/></svg>
<svg style="position:absolute;left:0.00px;top:0.00px;pointer-events:none;" width="1356" height="915" viewBox="0 0 1356 915"><path d="M1028.5 149 V160.3 Q1028.5 163.5 1031.7 163.5 H1049.6" fill="none" stroke="#fff" stroke-width="2.5" stroke-linecap="round"/><path d="M1032.8 159.1 L1037.5 154.2 L1040.9 157.7 L1046.2 152.2" fill="none" stroke="#fff" stroke-width="2.1" stroke-linecap="square" stroke-linejoin="miter"/><path d="M1041.7 151.6 H1047.1 V157" fill="none" stroke="#fff" stroke-width="2.1" stroke-linecap="butt"/></svg>
<svg style="position:absolute;left:0.00px;top:0.00px;pointer-events:none;" width="1356" height="915" viewBox="0 0 1356 915"><path d="M1160.2 151.9 H1178.9 M1160.2 161 H1178.9" stroke="#344563" stroke-width="2.1" stroke-linecap="round"/><circle cx="1165.1" cy="151.9" r="2.4" fill="#f4f5f7" stroke="#344563" stroke-width="2"/><circle cx="1174.2" cy="161" r="2.4" fill="#f4f5f7" stroke="#344563" stroke-width="2"/></svg>
<svg style="position:absolute;left:0.00px;top:0.00px;pointer-events:none;" width="1356" height="915" viewBox="0 0 1356 915"><path d="M1271.3 225 Q1266.3 221.5 1266.5 216.6 Q1266.8 212.6 1270.2 210.1" fill="none" stroke="#344563" stroke-width="2.2" stroke-linecap="round"/><path d="M1266.6 208.8 H1272 V214" fill="none" stroke="#344563" stroke-width="2.2" stroke-linecap="round" stroke-linejoin="miter"/><path d="M1278.5 208.9 Q1283.5 212.4 1283.3 217.3 Q1283 221.3 1279.6 223.8" fill="none" stroke="#344563" stroke-width="2.2" stroke-linecap="round"/><path d="M1283.2 225.1 H1277.8 V219.9" fill="none" stroke="#344563" stroke-width="2.2" stroke-linecap="round" stroke-linejoin="miter"/><path d="M1304.4 210 L1318.8 224.2 M1318.8 210 L1304.4 224.2" stroke="#344563" stroke-width="2" stroke-linecap="round"/></svg>
<svg style="position:absolute;left:0.00px;top:0.00px;pointer-events:none;" width="1356" height="915" viewBox="0 0 1356 915"><path d="M939.2 616.6 L947.6 613.2 V620 Z" fill="#505f79" stroke="#505f79" stroke-width="0.8" stroke-linejoin="round"/><path d="M940.9 619.6 V623.2" stroke="#505f79" stroke-width="1.9"/><path d="M949.8 613.7 L952.3 612.5 M949.8 616.5 H952.7 M949.8 618.8 L952.3 619.8" stroke="#505f79" stroke-width="1.2" stroke-linecap="round"/><path d="M1296.2 611.6 H1292.4 Q1290.9 611.6 1290.9 613.1 V622.1 Q1290.9 623.6 1292.4 623.6 H1301.6 Q1303.1 623.6 1303.1 622.1 V618.6" fill="none" stroke="#6b778c" stroke-width="1.7" stroke-linecap="round"/><path d="M1296.9 617.8 L1302.6 612.1" stroke="#6b778c" stroke-width="1.7" stroke-linecap="round"/><path d="M1299.2 611.1 H1303.8 V615.7 Z" fill="#6b778c"/></svg>
</div></div>
</body></html>
